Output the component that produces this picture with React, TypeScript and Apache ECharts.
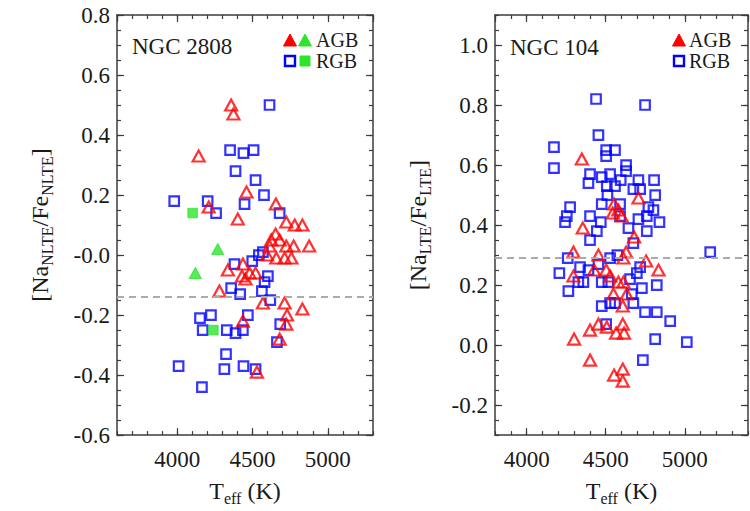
import { useEffect, useRef } from 'react';
import * as echarts from 'echarts';

const SERIF = 'Liberation Serif, Times New Roman, Times, serif';
const INK = '#1a1a1a';
const FRAME = '#3c3c3c';
const RED = '#ff0000';
const BLUE = '#0000ff';
const GREEN = '#2ee52e';
const MEAN_LINE = '#ababab';

// NGC 2808 — [Teff (K), [Na/Fe] NLTE]
const ngc2808AgbRed: [number, number][] = [
  [4358, 0.50], [4373, 0.47], [4142, 0.33], [4460, 0.21], [4209, 0.16], [4655, 0.17],
  [4402, 0.12], [4724, 0.11], [4780, 0.10], [4831, 0.10], [4653, 0.07], [4624, 0.05],
  [4680, 0.05], [4613, 0.03], [4724, 0.03], [4773, 0.03], [4876, 0.03], [4596, 0.00],
  [4658, -0.01], [4713, -0.01], [4758, -0.01], [4336, -0.05], [4436, -0.03], [4430, -0.07],
  [4480, -0.06], [4520, -0.06], [4453, -0.08], [4280, -0.12], [4569, -0.16], [4713, -0.16],
  [4831, -0.18], [4729, -0.20], [4724, -0.23], [4436, -0.22], [4680, -0.28], [4529, -0.39],
];
const ngc2808AgbGreen: [number, number][] = [[4269, 0.02], [4120, -0.06]];
const ngc2808RgbBlue: [number, number][] = [
  [4613, 0.50], [4351, 0.35], [4440, 0.34], [4507, 0.35], [4387, 0.28], [4520, 0.25],
  [4576, 0.20], [3980, 0.18], [4202, 0.18], [4447, 0.17], [4258, 0.14], [4680, 0.14],
  [4380, -0.03], [4498, -0.02], [4542, 0.00], [4569, 0.01], [4602, -0.07], [4580, -0.09],
  [4562, -0.12], [4618, -0.15], [4358, -0.11], [4418, -0.13], [4151, -0.21], [4224, -0.20],
  [4469, -0.20], [4684, -0.23], [4169, -0.25], [4329, -0.25], [4387, -0.26], [4436, -0.25],
  [4662, -0.29], [4324, -0.33], [4009, -0.37], [4313, -0.38], [4440, -0.37], [4520, -0.38],
  [4164, -0.44],
];
const ngc2808RgbGreen: [number, number][] = [[4102, 0.14], [4240, -0.25]];
const ngc2808MeanNa = -0.14;

// NGC 104 — [Teff (K), [Na/Fe] LTE]
const ngc104Agb: [number, number][] = [
  [4349, 0.62], [4707, 0.49], [4553, 0.47], [4580, 0.45], [4601, 0.43], [4545, 0.44],
  [4355, 0.39], [4680, 0.36], [4629, 0.31], [4612, 0.29], [4296, 0.31], [4454, 0.30],
  [4756, 0.28], [4834, 0.25], [4296, 0.23], [4427, 0.25], [4503, 0.25], [4528, 0.23],
  [4580, 0.21], [4612, 0.21], [4549, 0.17], [4633, 0.17], [4608, 0.13], [4608, 0.07],
  [4454, 0.07], [4401, 0.05], [4507, 0.06], [4566, 0.04], [4616, 0.04], [4300, 0.02],
  [4401, -0.05], [4553, -0.10], [4608, -0.08], [4608, -0.12],
];
const ngc104Rgb: [number, number][] = [
  [4439, 0.82], [4749, 0.80], [4454, 0.70], [4173, 0.66], [4173, 0.59], [4503, 0.65],
  [4559, 0.65], [4503, 0.63], [4629, 0.60], [4629, 0.58], [4401, 0.57], [4475, 0.56],
  [4528, 0.57], [4391, 0.54], [4595, 0.55], [4707, 0.55], [4806, 0.55], [4507, 0.53],
  [4559, 0.53], [4675, 0.52], [4718, 0.52], [4813, 0.50], [4511, 0.50], [4275, 0.46],
  [4475, 0.47], [4591, 0.47], [4770, 0.46], [4802, 0.45], [4243, 0.41], [4254, 0.43],
  [4401, 0.43], [4469, 0.41], [4591, 0.43], [4707, 0.42], [4760, 0.43], [4840, 0.41],
  [4444, 0.38], [4644, 0.39], [4760, 0.38], [4401, 0.35], [4675, 0.34], [4574, 0.30],
  [4528, 0.29], [4260, 0.29], [5161, 0.31], [4207, 0.24], [4338, 0.26], [4391, 0.25],
  [4454, 0.27], [4718, 0.26], [4697, 0.24], [4264, 0.18], [4327, 0.21], [4359, 0.21],
  [4475, 0.21], [4654, 0.22], [4729, 0.19], [4823, 0.20], [4517, 0.21], [4665, 0.17],
  [4475, 0.13], [4528, 0.14], [4559, 0.14], [4675, 0.14], [4749, 0.11], [4823, 0.11],
  [4908, 0.08], [4503, 0.07], [4813, 0.02], [5013, 0.01], [4735, -0.05],
];
const ngc104MeanNa = 0.29;

// Axis ranges
const teffRange2808 = [3600, 5300];
const naRange2808 = [-0.6, 0.8];
const teffRange104 = [3800, 5400];
const naRange104 = [-0.3, 1.1];

const tickLine = { color: FRAME, width: 1.2 };

// Rich styles: m = main text, s = subscript, t = tick label
const richStyles = {
  m: { fontFamily: SERIF, fontSize: 24, color: INK, lineHeight: 30, verticalAlign: 'middle' },
  s: { fontFamily: SERIF, fontSize: 16, color: INK, lineHeight: 16, verticalAlign: 'bottom' },
  t: { fontFamily: SERIF, fontSize: 23, color: INK },
};

const nameStyle = {
  fontFamily: SERIF,
  fontSize: 24,
  color: INK,
  lineHeight: 30,
  rich: richStyles,
};

function xAxesFor(gridIndex: number, range: number[]) {
  const base = {
    type: 'value',
    gridIndex,
    min: range[0],
    max: range[1],
    splitLine: { show: false },
  };
  const major = {
    ...base,
    splitNumber: 3,
    axisLine: { show: true, onZero: false, lineStyle: { color: FRAME, width: 1.5 } },
    axisTick: { show: true, inside: true, length: 7, lineStyle: tickLine },
  };
  const minor = {
    ...base,
    interval: 100,
    axisLine: { show: false, onZero: false },
    axisTick: { show: true, inside: true, length: 4, lineStyle: tickLine },
    axisLabel: { show: false },
  };
  return [
    {
      ...major,
      position: 'bottom',
      axisLabel: {
        show: true,
        margin: 13,
        fontFamily: SERIF,
        fontSize: 23,
        color: INK,
        rich: richStyles,
        showMinLabel: false,
        showMaxLabel: false,
        formatter: (v: number) => `{t|${Math.round(v)}}`,
      },
      name: '{m|T}{s|eff}{m| (K)}',
      nameLocation: 'middle',
      nameGap: 38,
      nameTextStyle: nameStyle,
    },
    { ...minor, position: 'bottom' },
    { ...major, position: 'top', axisLabel: { show: false } },
    { ...minor, position: 'top' },
  ];
}

function yAxesFor(
  gridIndex: number,
  range: number[],
  sub: string,
  zeroText: string,
  edgeLabels: boolean,
) {
  const base = {
    type: 'value',
    gridIndex,
    min: range[0],
    max: range[1],
    splitLine: { show: false },
  };
  const major = {
    ...base,
    ...(edgeLabels ? { interval: 0.2 } : { splitNumber: 7 }),
    axisLine: { show: true, onZero: false, lineStyle: { color: FRAME, width: 1.5 } },
    axisTick: { show: true, inside: true, length: 7, lineStyle: tickLine },
  };
  const minor = {
    ...base,
    interval: 0.05,
    axisLine: { show: false, onZero: false },
    axisTick: { show: true, inside: true, length: 4, lineStyle: tickLine },
    axisLabel: { show: false },
  };
  return [
    {
      ...major,
      position: 'left',
      axisLabel: {
        show: true,
        margin: 7,
        fontFamily: SERIF,
        fontSize: 23,
        color: INK,
        rich: richStyles,
        showMinLabel: edgeLabels,
        showMaxLabel: edgeLabels,
        formatter: (v: number) => `{t|${Math.abs(v) < 1e-9 ? zeroText : v.toFixed(1)}}`,
      },
      name: `{m|[Na}{s|${sub}}{m|/Fe}{s|${sub}}{m|]}`,
      nameLocation: 'middle',
      nameRotate: 90,
      nameGap: 62,
      nameTextStyle: nameStyle,
    },
    { ...minor, position: 'left' },
    { ...major, position: 'right', axisLabel: { show: false } },
    { ...minor, position: 'right' },
  ];
}

function scatter(
  name: string,
  data: [number, number][],
  axisIndex: number,
  symbol: string,
  color: string,
  hollow: boolean,
  extra: object = {},
) {
  const isTri = symbol === 'triangle';
  return {
    type: 'scatter',
    name,
    xAxisIndex: axisIndex,
    yAxisIndex: axisIndex,
    data,
    symbol,
    symbolSize: isTri ? [12, 11] : 9.5,
    itemStyle: hollow
      ? { color: 'rgba(255,255,255,0)', borderColor: color, borderWidth: 2.2 }
      : { color, borderColor: color, borderWidth: 1 },
    emphasis: { disabled: true },
    ...extra,
  };
}

function meanLine(value: number) {
  return {
    silent: true,
    symbol: 'none',
    label: { show: false },
    lineStyle: { type: [7, 5], color: MEAN_LINE, width: 2 },
    data: [{ yAxis: value }],
  };
}

const textStyle = (text: string, size: number) => ({
  text,
  fontFamily: SERIF,
  fontSize: size,
  fill: INK,
  align: 'left',
  verticalAlign: 'middle',
});

function triangleIcon(cx: number, cy: number, color: string) {
  return {
    type: 'polygon',
    shape: { points: [[cx - 6.5, cy + 6], [cx, cy - 6], [cx + 6.5, cy + 6]] },
    style: { fill: color, stroke: color, lineWidth: 1 },
  };
}

function squareIcon(cx: number, cy: number, color: string, hollow: boolean) {
  return {
    type: 'rect',
    shape: { x: cx - 5, y: cy - 5, width: 10, height: 10 },
    style: hollow
      ? { fill: 'rgba(255,255,255,0)', stroke: color, lineWidth: 2.4 }
      : { fill: color, stroke: color, lineWidth: 1 },
  };
}

export default function App() {
  const ref = useRef<HTMLDivElement>(null);

  useEffect(() => {
    if (!ref.current) return;
    const chart = echarts.init(ref.current, null, { renderer: 'svg' });

    chart.setOption({
      animation: false,
      backgroundColor: '#ffffff',
      textStyle: { fontFamily: SERIF, color: INK },
      grid: [
        { left: 117, top: 15, width: 256, height: 426, containLabel: false },
        { left: 495, top: 15, width: 253, height: 426, containLabel: false },
      ],
      xAxis: [...xAxesFor(0, teffRange2808), ...xAxesFor(1, teffRange104)],
      yAxis: [
        ...yAxesFor(0, naRange2808, 'NLTE', '-0.0', true),
        ...yAxesFor(1, naRange104, 'LTE', '0.0', false),
      ],
      series: [
        scatter('RGB', ngc2808RgbBlue, 0, 'rect', BLUE, true, { markLine: meanLine(ngc2808MeanNa) }),
        scatter('RGB (2nd gen.)', ngc2808RgbGreen, 0, 'rect', GREEN, false),
        scatter('AGB', ngc2808AgbRed, 0, 'triangle', RED, true),
        scatter('AGB (2nd gen.)', ngc2808AgbGreen, 0, 'triangle', GREEN, false),
        scatter('RGB', ngc104Rgb, 4, 'rect', BLUE, true, { markLine: meanLine(ngc104MeanNa) }),
        scatter('AGB', ngc104Agb, 4, 'triangle', RED, true),
      ],
      graphic: [
        { type: 'text', x: 132, y: 46, style: textStyle('NGC 2808', 23) },
        { type: 'text', x: 510, y: 47, style: textStyle('NGC 104', 23) },
        // NGC 2808 key
        triangleIcon(290, 40, RED),
        triangleIcon(305, 40, GREEN),
        { type: 'text', x: 316, y: 40, style: textStyle('AGB', 20) },
        squareIcon(290, 61, BLUE, true),
        squareIcon(305, 61, GREEN, false),
        { type: 'text', x: 316, y: 61, style: textStyle('RGB', 20) },
        // NGC 104 key
        triangleIcon(679, 40, RED),
        { type: 'text', x: 689, y: 40, style: textStyle('AGB', 20) },
        squareIcon(679, 61, BLUE, true),
        { type: 'text', x: 689, y: 61, style: textStyle('RGB', 20) },
      ],
    });

    return () => chart.dispose();
  }, []);

  return (
    <div
      ref={ref}
      style={{ position: 'fixed', left: 0, top: 0, width: 750, height: 511, background: '#fff' }}
    />
  );
}
